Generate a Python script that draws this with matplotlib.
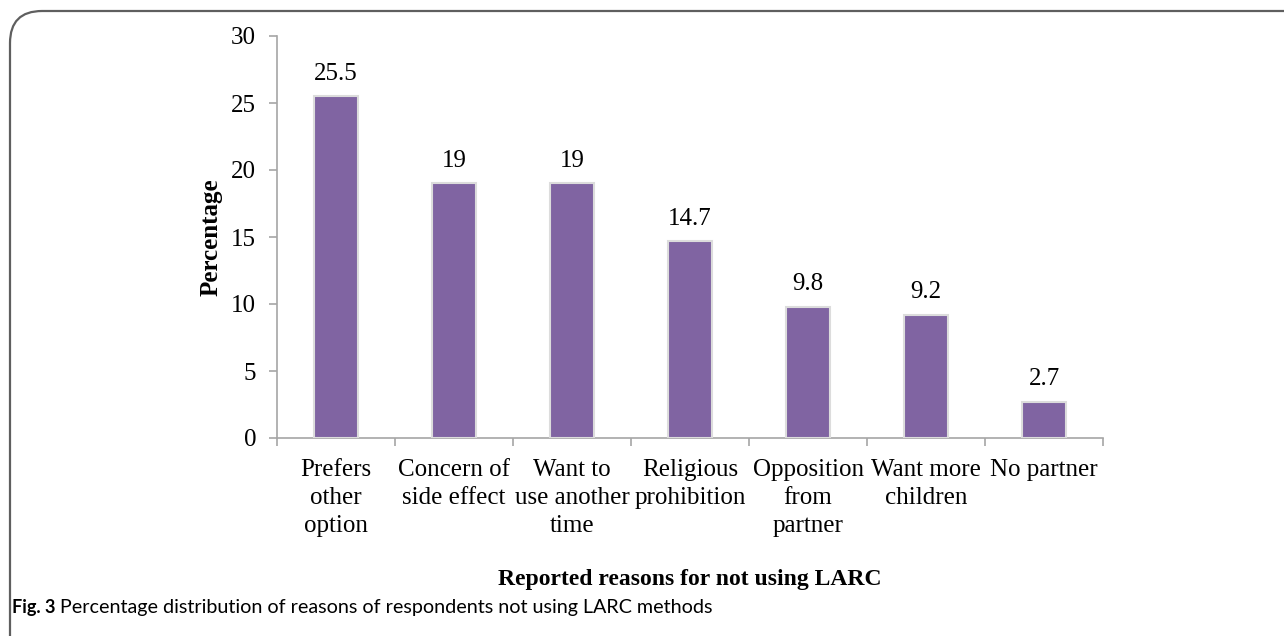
import numpy as np
import matplotlib.pyplot as plt
from matplotlib.patches import FancyBboxPatch
from matplotlib.ticker import FixedLocator

reasons = [
    "Prefers\nother\noption",
    "Concern of\nside effect",
    "Want to\nuse another\ntime",
    "Religious\nprohibition",
    "Opposition\nfrom\npartner",
    "Want more\nchildren",
    "No partner",
]
percent = [25.5, 19, 19, 14.7, 9.8, 9.2, 2.7]
value_labels = ["25.5", "19", "19", "14.7", "9.8", "9.2", "2.7"]
yticks = [0, 5, 10, 15, 20, 25, 30]

serif = ["Liberation Serif", "DejaVu Serif"]
sans = ["Lato", "DejaVu Sans"]
bar_color = "#8064a2"
axis_color = "#a6a6a6"
fs = 18

fig = plt.figure(figsize=(12.84, 6.36), dpi=100)

# rounded frame, open at right and bottom
frame = FancyBboxPatch((10 / 1284, -0.2), 1.2, 1.2 - 11 / 636,
                       boxstyle="round,pad=0,rounding_size=0.025",
                       transform=fig.transFigure, fill=False,
                       edgecolor="#5f5f5f", linewidth=1.6,
                       mutation_aspect=1284 / 636)
fig.patches.append(frame)

ax = fig.add_axes([277 / 1284, 198 / 636, 826 / 1284, 402 / 636])
x = np.arange(len(reasons))
ax.bar(x, percent, width=0.38, color=bar_color, edgecolor="#dcdcdc",
       linewidth=1.5, zorder=3)

for xi, v, lab in zip(x, percent, value_labels):
    ax.text(xi, v + 0.85, lab, ha="center", va="bottom",
            fontsize=fs, family=serif)

ax.set_xlim(-0.5, len(reasons) - 0.5)
ax.set_ylim(0, 30)
ax.set_yticks(yticks)
ax.set_yticklabels([str(t) for t in yticks], fontsize=fs, family=serif)

ax.set_xticks(x)
ax.set_xticklabels(reasons, fontsize=fs, family=serif, linespacing=1.36)
ax.xaxis.set_minor_locator(FixedLocator(np.arange(-0.5, len(reasons), 1.0)))
ax.tick_params(axis="x", which="major", length=0, pad=15)
ax.tick_params(axis="x", which="minor", length=6, color=axis_color, width=1.2)
ax.tick_params(axis="y", length=6, color=axis_color, width=1.2, pad=9)

for side in ["top", "right"]:
    ax.spines[side].set_visible(False)
for side in ["left", "bottom"]:
    ax.spines[side].set_color(axis_color)
    ax.spines[side].set_linewidth(1.2)

ax.set_ylabel("Percentage", fontsize=fs, family=serif, fontweight="bold",
              labelpad=6)
fig.text(690 / 1284, 1 - 580 / 636, "Reported reasons for not using LARC",
         ha="center", va="center", fontsize=17, family=serif,
         fontweight="bold")

# caption
fig.text(12 / 1284, 1 - 607 / 636, "Fig. 3", ha="left", va="center",
         fontsize=13, family=sans, fontweight="bold")
fig.text(60 / 1284, 1 - 607 / 636,
         "Percentage distribution of reasons of respondents not using LARC methods",
         ha="left", va="center", fontsize=14.2, family=sans)

fig.savefig("out.png", dpi=100)
